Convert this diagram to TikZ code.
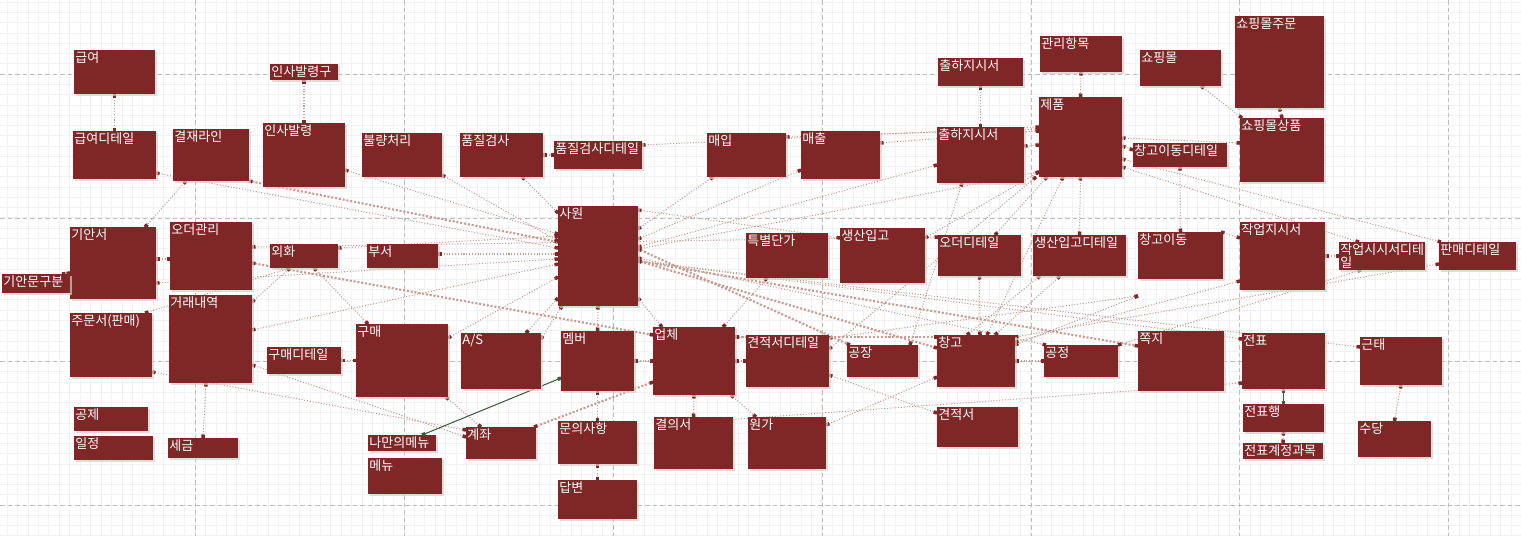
\documentclass[tikz,border=0pt]{standalone}
\usepackage{fontspec}
\newfontfamily\kr{Noto Sans CJK KR}
\usetikzlibrary{arrows.meta}
\usetikzlibrary{shadows}
\definecolor{erdred}{RGB}{127,38,38}
\definecolor{relc}{RGB}{200,158,148}
\definecolor{grnc}{RGB}{60,95,60}
\definecolor{finec}{RGB}{240,242,246}
\definecolor{majc}{RGB}{190,190,190}
\pgfdeclarelayer{bg}
\pgfdeclarelayer{lines}
\pgfsetlayers{bg,lines,main}
\tikzset{
    ent/.style = {rectangle, fill=erdred, inner sep=0pt, outer sep=0pt, drop shadow={shadow xshift=.35mm,shadow yshift=-.35mm,fill=erdred!25,opacity=.7}},
    lbl/.style = {anchor=north west, inner sep=.6pt, text=white, align=left, font=\kr\fontsize{7.4}{7.8}\selectfont},
    rel/.style = {densely dotted, draw=relc, line width=.6pt, >={Square[length=.7mm,width=.7mm,color=erdred]}, <->},
    relt/.style = {rel, line width=1.2pt},
    grel/.style = {draw=grnc, line width=.6pt, >={Square[length=.7mm,width=.7mm,color=grnc]}, <->},
    finegrid/.style = {draw=finec, line width=.3pt},
    majgrid/.style = {draw=majc, line width=.4pt, dash pattern=on .9mm off .6mm},
    dn/.style = {yshift=-#1*0.2mm},
    rt/.style = {xshift=#1*0.2mm}
}
% entity box: name, x1, y1, x2, y2, title
\newcommand\ent[6]{\node[ent,minimum width={(#4-#2)*0.2mm},minimum height={(#5-#3)*0.2mm},label={[lbl]north west:#6}] (#1) at ({(#2+#4)/2},{(#3+#5)/2}) {};}

\begin{document}
\begin{tikzpicture}[x=0.2mm,y=-0.2mm]
\useasboundingbox (0,0) rectangle (1521,536);
\begin{pgfonlayer}{bg}
\fill[white] (0,0) rectangle (1521,536);
\foreach \i in {0,...,146} \draw[finegrid] ({-3.5+\i*10.445},0) -- ++(0,536);
\foreach \j in {0,...,52} \draw[finegrid] (0,{2.2+\j*10.26}) -- ++(1521,0);
\foreach \x in {195,404,613,822,1031,1239,1448} \draw[majgrid] (\x,0) -- ++(0,536);
\foreach \y in {74,218,361,505} \draw[majgrid] (0,\y) -- ++(1521,0);
\end{pgfonlayer}
%
\ent{gy}{74}{50}{155}{94}{급여}
\ent{isbg}{270}{64}{338}{80}{인사발령구}
\ent{gyd}{73}{131}{156}{179}{급여디테일}
\ent{gjl}{173}{129}{249}{181}{결재라인}
\ent{isb}{263}{123}{345}{187}{인사발령}
\ent{bul}{362}{133}{442}{177}{불량처리}
\ent{pj}{460}{133}{543}{177}{품질검사}
\ent{pjd}{554}{141}{642}{169}{품질검사디테일}
\ent{mi}{707}{133}{786}{177}{매입}
\ent{mc}{801}{131}{880}{179}{매출}
\ent{chj1}{938}{58}{1023}{86}{출하지시서}
\ent{chj}{937}{127}{1024}{183}{출하지시서}
\ent{gl}{1040}{36}{1122}{72}{관리항목}
\ent{jp}{1039}{97}{1122}{177}{제품}
\ent{sm}{1140}{50}{1221}{86}{쇼핑몰}
\ent{smj}{1235}{16}{1324}{108}{쇼핑몰주문}
\ent{sms}{1240}{118}{1324}{182}{쇼핑몰상품}
\ent{cgd}{1133}{143}{1227}{167}{창고이동디테일}
\ent{gas}{70}{227}{156}{299}{기안서}
\ent{gmg}{2}{274}{70}{293}{기안문구분}
\ent{odm}{170}{222}{252}{290}{오더관리}
\ent{wh}{270}{244}{338}{268}{외화}
\ent{bs}{367}{244}{438}{268}{부서}
\ent{sw}{558}{206}{638}{306}{사원}
\ent{tdg}{746}{233}{828}{278}{특별단가}
\ent{sig}{840}{228}{925}{283}{생산입고}
\ent{odd}{938}{235}{1021}{276}{오더디테일}
\ent{sigd}{1033}{235}{1126}{276}{생산입고디테일}
\ent{cgi}{1138}{232}{1223}{279}{창고이동}
\ent{jjs}{1240}{222}{1325}{290}{작업지시서}
\ent{jjsd}{1339}{242}{1425}{270}{작업시시서디테\\일}
\ent{pmd}{1439}{242}{1516}{270}{판매디테일}
\ent{jms}{70}{313}{152}{377}{주문서(판매)}
\ent{gr}{169}{295}{252}{383}{거래내역}
\ent{gmd}{267}{347}{341}{374}{구매디테일}
\ent{gm}{356}{324}{448}{397}{구매}
\ent{as}{461}{333}{541}{389}{A/S}
\ent{mb}{561}{331}{634}{391}{멤버}
\ent{uc}{653}{327}{735}{395}{업체}
\ent{gjd}{746}{335}{829}{387}{견적서디테일}
\ent{gj}{847}{345}{918}{377}{공장}
\ent{cg}{937}{335}{1015}{387}{창고}
\ent{gjg}{1044}{345}{1118}{377}{공정}
\ent{jj}{1138}{331}{1224}{391}{쪽지}
\ent{jpy}{1242}{333}{1325}{389}{전표}
\ent{gt}{1360}{337}{1442}{385}{근태}
\ent{gje}{74}{407}{148}{431}{공제}
\ent{ij}{74}{436}{153}{460}{일정}
\ent{sg}{168}{438}{238}{458}{세금}
\ent{mym}{368}{435}{436}{451}{나만의메뉴}
\ent{mn}{368}{458}{442}{494}{메뉴}
\ent{gjw}{466}{427}{536}{459}{계좌}
\ent{mu}{558}{421}{637}{464}{문의사항}
\ent{db}{558}{480}{637}{519}{답변}
\ent{gus}{654}{417}{733}{469}{결의서}
\ent{wg}{748}{417}{826}{469}{원가}
\ent{gjs}{937}{407}{1018}{447}{견적서}
\ent{jph}{1243}{404}{1324}{432}{전표행}
\ent{jpg}{1243}{443}{1323}{459}{전표계정과목}
\ent{sd}{1358}{421}{1431}{457}{수당}
%
\begin{pgfonlayer}{lines}
% short links
\draw[rel] (gy.south) -- (gyd.north);
\draw[rel] (isbg.south) -- (isb.north);
\draw[rel] (chj1.south) -- (chj.north);
\draw[rel] (gl.south) -- (jp.north);
\draw[rel] ([rt=61]sm.south west) -- ([rt=2]sms.north west);
\draw[rel] (smj.south) -- (sms.north);
\draw[rel] (pj.east) -- (pjd.west);
\draw[rel] ([dn=32]gas.north east) -- ([dn=37]odm.north west);
\draw[rel] ([rt=-8]gmg.north east) -- ([dn=46]gas.north west);
\draw[rel] (gmd.east) -- (gm.west);
\draw[rel] ([rt=37]gr.south west) -- (sg.north);
\draw[rel] (mu.south) -- (db.north);
\draw[rel] (sw.south) -- (mb.north);
\draw[rel] (mb.south) -- (mu.north);
\draw[rel] (mb.east) -- (uc.west);
\draw[rel] (uc.east) -- (gjd.west);
\draw[rel] (uc.south) -- (gus.north);
\draw[rel] (cg.east) -- (gjg.west);
\draw[rel] (cgd.south) -- (cgi.north);
\draw[rel] (jjs.east) -- (jjsd.west);
\draw[grel] (jpy.south) -- (jph.north);
\draw[rel] (jph.south) -- (jpg.north);
\draw[rel] (gt.south) -- (sd.north);
\draw[rel] (jp.south) -- (sigd.north);
% into sawon from the left
\draw[rel] ([dn=42]gyd.north east) -- ([dn=42]sw.north west);
\draw[relt] (gjl.south east) -- ([dn=36]sw.north west);
\draw[rel] ([dn=47]isb.north east) -- ([dn=28]sw.north west);
\draw[rel] ([dn=42]bul.north east) -- ([dn=35]sw.north west);
\draw[rel] ([rt=62]pj.south west) -- ([dn=7]sw.north west);
\draw[rel] ([dn=10]bs.north east) -- ([dn=48]sw.north west);
\draw[rel] ([dn=4]wh.north east) -- ([dn=30]sw.north west);
\draw[rel] ([dn=56]gas.north east) -- ([dn=53]sw.north west);
\draw[rel] ([dn=35]gr.north east) -- ([dn=58]sw.north west);
\draw[rel] ([dn=14]gm.north east) -- ([dn=71]sw.north west);
\draw[rel] ([rt=65]as.north west) -- ([dn=92]sw.north west);
\draw[rel] ([dn=6]as.north east) -- ([rt=4]sw.south west);
% left cluster
\draw[rel] ([rt=13]gjl.south west) -- ([rt=75]gas.north west);
\draw[rel] ([dn=25]odm.north east) -- ([dn=2]odd.north west);
\draw[relt] ([dn=41]odm.north east) -- ([dn=8]uc.north west);
\draw[rel] ([dn=7]gr.north east) -- ([rt=20]wh.south west);
\draw[rel] ([rt=75]jms.north west) -- ([rt=20]wh.south west);
\draw[rel] ([rt=44]wh.south west) -- ([rt=12]gm.north west);
\draw[rel] ([rt=90]gm.south west) -- ([rt=15]gjw.north west);
\draw[rel] ([dn=59]jms.north east) -- ([dn=3]gjw.north west);
\draw[rel] ([dn=70]gr.north east) -- ([dn=10]gjw.north west);
\draw[relt] ([rt=-2]gjw.north east) -- ([dn=55]uc.north west);
\draw[grel] ([rt=54]mym.north west) -- ([dn=47]mb.north west);
% middle
\draw[rel] ([dn=92]sw.north east) -- ([rt=9]uc.north west);
\draw[rel] ([rt=21]tdg.south west) -- ([rt=70]uc.north west);
\draw[rel] ([rt=78]uc.south west) -- ([rt=8]wg.north west);
\draw[rel] ([dn=8]gus.north west) -- ([dn=50]jpy.north west);
\draw[rel] ([dn=8]wg.north east) -- ([dn=42]cg.north west);
\draw[rel] ([dn=40]gjd.north east) -- ([dn=6]gjs.north west);
\draw[rel] ([dn=14]gjd.north east) -- ([rt=-3]jp.south west);
\draw[rel] ([dn=3]gjd.north east) -- ([dn=64]cgi.north west);
\draw[relt] ([dn=10]uc.north east) -- ([dn=2]cg.north west);
% out of sawon to the right
\draw[rel] ([dn=4]sw.north east) -- ([dn=10]sig.north west);
\draw[rel] ([dn=23]sw.north east) -- ([rt=6]mi.south west);
\draw[rel] ([dn=33]sw.north east) -- ([dn=39]mc.north west);
\draw[rel] ([dn=41]sw.north east) -- ([dn=38]chj.north west);
\draw[rel] ([dn=43]sw.north east) -- ([dn=75]jp.north west);
\draw[relt] ([dn=55]sw.north east) -- ([dn=13]cg.north west);
\draw[relt] ([dn=55]sw.north east) -- ([dn=15]jj.north west);
\draw[rel] ([dn=55]sw.north east) -- ([dn=6]jpy.north west);
\draw[rel] ([dn=55]sw.north east) -- ([dn=10]gt.north west);
\draw[relt] ([dn=43]sw.north east) -- ([rt=3]gj.north west);
\draw[rel] ([dn=52]sw.north east) -- ([rt=2]gjg.north west);
% product side
\draw[rel] ([dn=4]pjd.north east) -- ([dn=30]jp.north west);
\draw[rel] ([dn=4]mi.north east) -- ([dn=32]jp.north west);
\draw[rel] ([dn=12]mc.north east) -- ([dn=34]jp.north west);
\draw[rel] ([dn=19]chj.north east) -- ([dn=48]jp.north west);
\draw[rel] ([dn=10]sig.north east) -- ([dn=75]jp.north west);
\draw[rel] ([rt=25]chj.south west) -- ([rt=63]gj.north west);
\draw[rel] ([rt=8]jp.south west) -- ([rt=57]odd.north west);
\draw[rel] ([rt=24]jp.south west) -- ([rt=50]cg.north west);
\draw[rel] (odd.south) -- ([rt=43]cg.north west);
\draw[rel] ([rt=7]sigd.south west) -- ([rt=30]cg.north west);
\draw[rel] ([rt=27]sigd.south west) -- ([rt=58]cg.north west);
\draw[rel] ([dn=49]jp.north east) -- ([dn=7]cgd.north west);
\draw[rel] ([dn=41]jp.north east) -- ([dn=25]sms.north west);
\draw[rel] ([dn=62]jp.north east) -- ([rt=2]pmd.north west);
\draw[rel] ([dn=70]jp.north east) -- ([rt=20]jjsd.north west);
% right cluster
\draw[rel] ([dn=64]cgi.north west) -- ([dn=10]cg.north east);
\draw[rel] ([dn=7]cg.north east) -- ([dn=59]jjs.north west);
\draw[rel] ([rt=-2]cgi.north east) -- ([dn=16]jjs.north west);
\draw[rel] ([dn=22]pmd.north west) -- ([dn=2]cg.north east);
\draw[rel] ([rt=22]jjsd.south west) -- (gjg.north east);
\end{pgfonlayer}
\end{tikzpicture}
\end{document}
